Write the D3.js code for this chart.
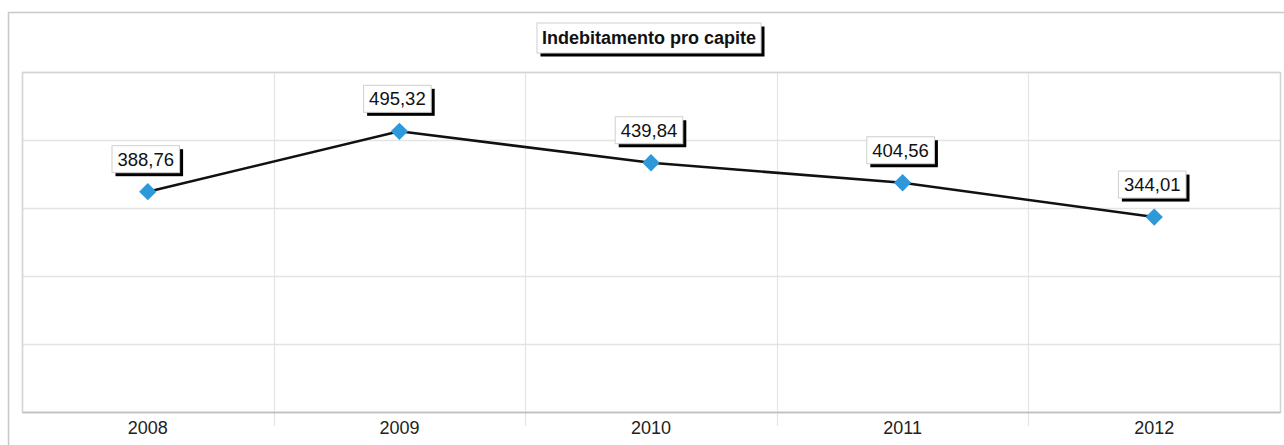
<!DOCTYPE html>
<html>
<head>
<meta charset="utf-8">
<script src="https://cdn.jsdelivr.net/npm/d3@7"></script>
<style>
  html, body { margin: 0; padding: 0; background: #fff; }
  svg { display: block; font-family: "Liberation Sans", Arial, sans-serif; }
</style>
</head>
<body>
<svg id="chart" width="1284" height="445"></svg>
<script>
'use strict';

const TITLE = 'Indebitamento pro capite';
const YEARS = ['2008', '2009', '2010', '2011', '2012'];
const VALUES = [388.76, 495.32, 439.84, 404.56, 344.01];
const LABELS = ['388,76', '495,32', '439,84', '404,56', '344,01'];
const Y_TICKS = [0, 120, 240, 360, 480, 600];

const W = 1284, H = 445;
const MARGINS = { top: 72, right: 4, bottom: 33, left: 22 };

const svg = d3.select('#chart');

// outer frame (only top and left edges are visible)
svg.append('path')
   .attr('d', `M8.5,${H} V12.5 H${W}`)
   .attr('fill', 'none')
   .attr('stroke', '#c8c8c8')
   .attr('stroke-width', 1.5);

const x = d3.scaleBand()
            .domain(YEARS)
            .range([MARGINS.left, W - MARGINS.right]);
const y = d3.scaleLinear()
            .domain([0, 600])
            .range([H - MARGINS.bottom, MARGINS.top]);

// grid
const grid = svg.append('g').attr('class', 'grid');
grid.selectAll('line.h')
    .data(Y_TICKS)
    .join('line')
    .attr('class', 'h')
    .attr('x1', MARGINS.left)
    .attr('x2', W - MARGINS.right)
    .attr('y1', d => Math.round(y(d)) + 0.5)
    .attr('y2', d => Math.round(y(d)) + 0.5)
    .attr('stroke', '#e4e4e4')
    .attr('stroke-width', 1.5);

const bounds = YEARS.map(d => x(d)).concat([x.range()[1]]);
grid.selectAll('line.v')
    .data(bounds)
    .join('line')
    .attr('class', 'v')
    .attr('x1', d => Math.round(d) + 0.5)
    .attr('x2', d => Math.round(d) + 0.5)
    .attr('y1', y(600))
    .attr('y2', (d, i) => (i === 0 || i === bounds.length - 1) ? y(0) : y(0) + 14)
    .attr('stroke', '#e4e4e4')
    .attr('stroke-width', 1.2);

// plot frame
svg.append('rect')
   .attr('x', MARGINS.left + 0.5)
   .attr('y', y(600) + 0.5)
   .attr('width', x.range()[1] - MARGINS.left)
   .attr('height', y(0) - y(600))
   .attr('fill', 'none')
   .attr('stroke', '#d4d4d4')
   .attr('stroke-width', 1.5);

// x axis
const xAxis = svg.append('g')
   .attr('transform', `translate(0,${y(0)})`)
   .call(d3.axisBottom(x).tickSize(0).tickPadding(9));
xAxis.select('.domain').attr('stroke', '#c0c0c0').attr('stroke-width', 1.5);
xAxis.selectAll('text')
     .attr('font-size', 18)
     .attr('font-family', '"Liberation Sans", Arial, sans-serif')
     .attr('fill', '#222');

// boxed text with black drop shadow
function shadowBox(g, text, cx, bottom, opts) {
  const t = g.append('text')
             .attr('x', cx)
             .attr('text-anchor', 'middle')
             .attr('font-size', opts.size)
             .attr('font-weight', opts.weight || 'normal')
             .attr('fill', '#111')
             .text(text);
  const bw = t.node().getComputedTextLength() + opts.pad * 2;
  const bh = opts.height;
  const bx = cx - bw / 2, by = bottom - bh;
  g.insert('rect', 'text')
   .attr('x', bx + 3.5).attr('y', by + 3.5)
   .attr('width', bw).attr('height', bh)
   .attr('fill', '#000');
  g.insert('rect', 'text')
   .attr('x', bx).attr('y', by)
   .attr('width', bw).attr('height', bh)
   .attr('fill', '#fff')
   .attr('stroke', '#cfcfcf')
   .attr('stroke-width', 1);
  t.attr('y', by + bh / 2).attr('dy', '0.36em');
}

shadowBox(svg.append('g'), TITLE, 649, 53, { size: 18, weight: 'bold', pad: 5, height: 30 });

// line
const cx = i => x(YEARS[i]) + x.bandwidth() / 2;
const line = d3.line()
               .x((d, i) => cx(i))
               .y(d => y(d));
svg.append('path')
   .attr('d', line(VALUES))
   .attr('fill', 'none')
   .attr('stroke', '#111')
   .attr('stroke-width', 2.6);

// markers
const diamond = d3.symbol().type(d3.symbolSquare).size(150);
svg.selectAll('path.marker')
   .data(VALUES)
   .join('path')
   .attr('class', 'marker')
   .attr('d', diamond)
   .attr('transform', (d, i) => `translate(${cx(i)},${y(d)}) rotate(45)`)
   .attr('fill', '#2f98d9');

// value labels
VALUES.forEach((v, i) => {
  shadowBox(svg.append('g'), LABELS[i], cx(i) - 2, y(v) - 19, { size: 18.5, pad: 5.5, height: 27 });
});
</script>
</body>
</html>
